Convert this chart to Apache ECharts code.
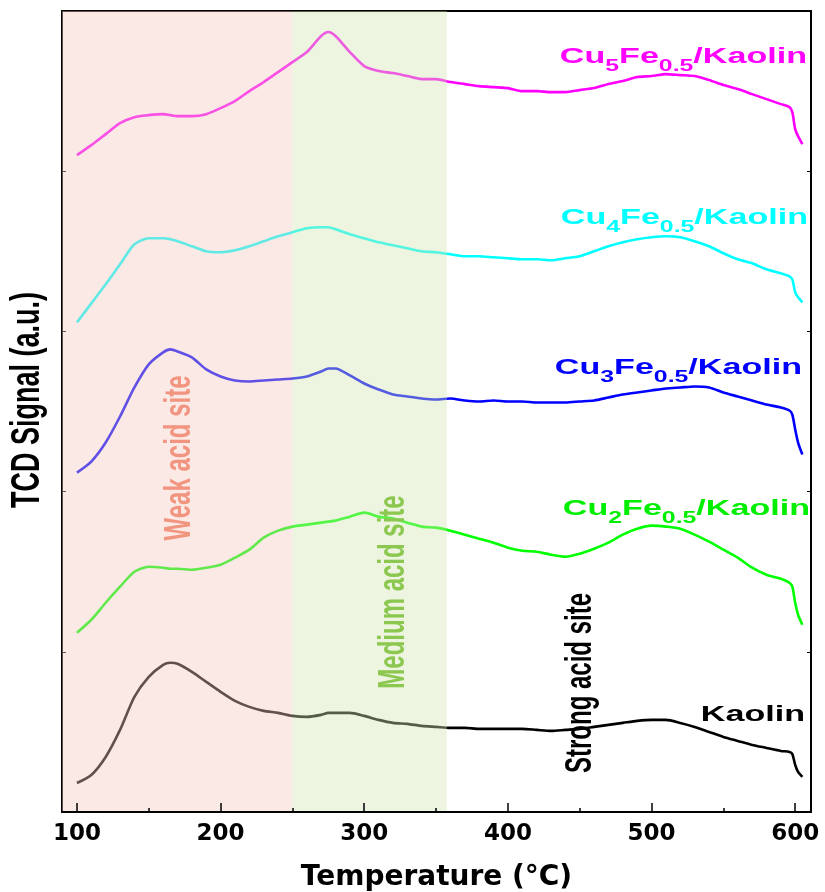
<!DOCTYPE html>
<html>
<head>
<meta charset="utf-8">
<title>TCD</title>
<script src="https://cdn.jsdelivr.net/npm/echarts@6/dist/echarts.min.js"></script>
<style>
    html, body { margin: 0; padding: 0; background: #fff; }
    #chart { width: 825px; height: 892px; }
</style>
</head>
<body>
<div id="chart"></div>
<script>
// temperatures (°C) shared by every trace
var temps = [100, 110, 120, 130, 140, 150, 160, 165, 170, 180, 190, 200, 210, 220, 230, 240, 250, 260, 270, 275,
    280, 290, 300, 310, 320, 330, 340, 350, 360, 370, 380, 390, 400, 410, 420, 430, 440, 450, 460, 470,
    480, 490, 500, 510, 520, 530, 540, 550, 560, 570, 580, 590, 596, 598, 600, 602, 605];

// TCD signal (a.u., traces already offset)
var kaolin = [29, 37, 55, 82, 115, 135, 147, 149, 148, 140, 130, 120, 111, 105, 101, 99, 96, 95, 97, 99,
    99, 99, 96, 92, 89, 88, 86, 85, 84, 84, 83, 83, 83, 83, 82, 81, 82, 83, 85, 87,
    89, 91, 92, 92, 89, 85, 80, 75, 71, 67, 64, 61, 60, 58, 47, 40, 35];
var cu2 = [179, 192, 209, 225, 240, 245, 244, 243, 243, 242, 244, 247, 254, 262, 274, 281, 285, 287, 289, 290,
    291, 295, 299, 295, 293, 289, 285, 284, 281, 277, 273, 269, 264, 261, 260, 257, 255, 258, 263, 269,
    277, 283, 286, 285, 283, 277, 270, 262, 254, 244, 237, 233, 229, 225, 209, 197, 187];
var cu3 = [339, 350, 369, 395, 424, 447, 459, 462, 460, 454, 442, 435, 431, 430, 431, 432, 433, 435, 440, 443,
    443, 436, 428, 422, 417, 415, 413, 412, 413, 411, 410, 411, 410, 410, 409, 409, 409, 410, 411, 414,
    417, 419, 421, 423, 424, 425, 424, 419, 415, 411, 407, 404, 401, 397, 382, 369, 357];
var cu4 = [489, 508, 527, 547, 567, 573, 573, 572, 570, 565, 560, 559, 561, 565, 570, 575, 579, 583, 584, 584,
    582, 577, 573, 569, 566, 563, 560, 559, 557, 555, 555, 554, 553, 552, 552, 551, 553, 555, 560, 565,
    569, 572, 574, 575, 574, 570, 565, 558, 552, 548, 542, 538, 535, 532, 519, 514, 509];
var cu5 = [656, 666, 677, 688, 694, 696, 697, 696, 695, 695, 697, 703, 710, 720, 729, 739, 749, 759, 775, 779,
    775, 759, 745, 740, 738, 735, 732, 732, 729, 727, 725, 724, 723, 720, 720, 719, 719, 721, 723, 727,
    730, 734, 735, 737, 736, 735, 731, 726, 722, 717, 712, 707, 704, 699, 682, 675, 667];

var majorTicks = [100, 200, 300, 400, 500, 600];
var minorTicks = [150, 250, 350, 450, 550];
var weakRange = [89.6, 250];
var mediumRange = [250, 357.5];

function pairs(vals) {
    return temps.map(function (t, i) { return [t, vals[i]]; });
}

function trace(name, vals, color) {
    return {
        name: name,
        type: 'line',
        data: pairs(vals),
        showSymbol: false,
        smooth: 0.25,
        z: 2,
        lineStyle: { color: color, width: 2.6 },
        itemStyle: { color: color }
    };
}

// rotated annotation, stretched like the original figure
function vText(text, x, y, size, color) {
    return {
        type: 'text', x: x, y: y, rotation: Math.PI / 2, scaleY: 1.5, z: 100,
        style: {
            text: text, fill: color, align: 'center', verticalAlign: 'middle',
            font: 'bold ' + size + 'px "Liberation Sans", Arial, sans-serif'
        }
    };
}

// sample name with subscripts; y is the centre of the capitals
function sampleLabel(num, color, x, y) {
    var main = { fill: color, font: 'bold 22px "Liberation Sans", Arial, sans-serif', lineHeight: 22, verticalAlign: 'top' };
    var sub = { fill: color, font: 'bold 16px "Liberation Sans", Arial, sans-serif', lineHeight: 29, verticalAlign: 'bottom' };
    var text = num === null ? '{m|Kaolin}' : '{m|Cu}{s|' + num + '}{m|Fe}{s|0.5}{m|/Kaolin}';
    return {
        type: 'text', x: x, y: num === null ? y : y + 3.5, scaleX: 1.55, z: 100,
        style: { text: text, align: 'right', verticalAlign: 'middle', rich: { m: main, s: sub } }
    };
}

var chart = echarts.init(document.getElementById('chart'));

var option = {
    animation: false,
    backgroundColor: '#fff',
    grid: { left: 62, right: 14, top: 11, height: 801, containLabel: false, outerBoundsMode: 'none' },
    xAxis: [
        {
            type: 'value', position: 'bottom', min: 89.6, max: 611, z: 20,
            splitLine: { show: false },
            axisLine: { lineStyle: { color: '#000', width: 2 } },
            axisTick: { inside: true, length: 9, customValues: majorTicks, lineStyle: { color: '#000', width: 1.5 } },
            axisLabel: {
                customValues: majorTicks, margin: 11, color: '#000',
                fontFamily: 'DejaVu Sans', fontWeight: 'bold', fontSize: 23
            },
            name: 'Temperature (°C)', nameLocation: 'middle', nameGap: 52,
            nameTextStyle: { color: '#000', fontFamily: 'DejaVu Sans', fontWeight: 'bold', fontSize: 28 }
        },
        {
            type: 'value', position: 'bottom', min: 89.6, max: 611, z: 20,
            splitLine: { show: false },
            axisLine: { show: false },
            axisTick: { inside: true, length: 4, customValues: minorTicks, lineStyle: { color: '#000', width: 1.5 } },
            axisLabel: { show: false }
        },
        {
            type: 'value', position: 'top', min: 89.6, max: 611,
            splitLine: { show: false },
            axisLine: { lineStyle: { color: '#000', width: 2 } },
            axisTick: { show: false },
            axisLabel: { show: false }
        }
    ],
    yAxis: [
        {
            type: 'value', position: 'left', min: 0, max: 800, interval: 160,
            splitLine: { show: false },
            axisLine: { show: true, lineStyle: { color: '#000', width: 2 } },
            axisTick: { show: true, inside: true, length: 4, lineStyle: { color: '#000', width: 1 } },
            axisLabel: { show: false }
        },
        {
            type: 'value', position: 'right', min: 0, max: 800, interval: 160,
            splitLine: { show: false },
            axisLine: { show: true, lineStyle: { color: '#000', width: 2 } },
            axisTick: { show: true, inside: true, length: 4, lineStyle: { color: '#000', width: 1 } },
            axisLabel: { show: false }
        }
    ],
    series: [
        trace('Kaolin', kaolin, '#000000'),
        trace('Cu2Fe0.5/Kaolin', cu2, '#00FF00'),
        trace('Cu3Fe0.5/Kaolin', cu3, '#0000FF'),
        trace('Cu4Fe0.5/Kaolin', cu4, '#00FFFF'),
        trace('Cu5Fe0.5/Kaolin', cu5, '#FF00FF'),
        {
            // translucent acid-site bands laid over the traces
            type: 'line', data: [], z: 5, silent: true,
            markArea: {
                silent: true, z: 5,
                data: [
                    [{ xAxis: weakRange[0], yAxis: 'min', itemStyle: { color: 'rgba(242,200,190,0.4)' } }, { xAxis: weakRange[1], yAxis: 'max' }],
                    [{ xAxis: mediumRange[0], yAxis: 'min', itemStyle: { color: 'rgba(210,230,178,0.4)' } }, { xAxis: mediumRange[1], yAxis: 'max' }]
                ]
            }
        }
    ],
    graphic: [
        vText('TCD Signal (a.u.)', 27.5, 400, 27, '#000'),
        vText('Weak acid site', 180, 458, 24, '#F29580'),
        vText('Medium acid site', 394, 592, 24, '#8CC850'),
        vText('Strong acid site', 581, 683, 24, '#000'),
        sampleLabel('5', '#FF00FF', 807, 57),
        sampleLabel('4', '#00FFFF', 808, 218),
        sampleLabel('3', '#0000FF', 802, 368),
        sampleLabel('2', '#00EE00', 810, 509),
        sampleLabel(null, '#000000', 805, 715)
    ]
};

chart.setOption(option);
</script>
</body>
</html>
